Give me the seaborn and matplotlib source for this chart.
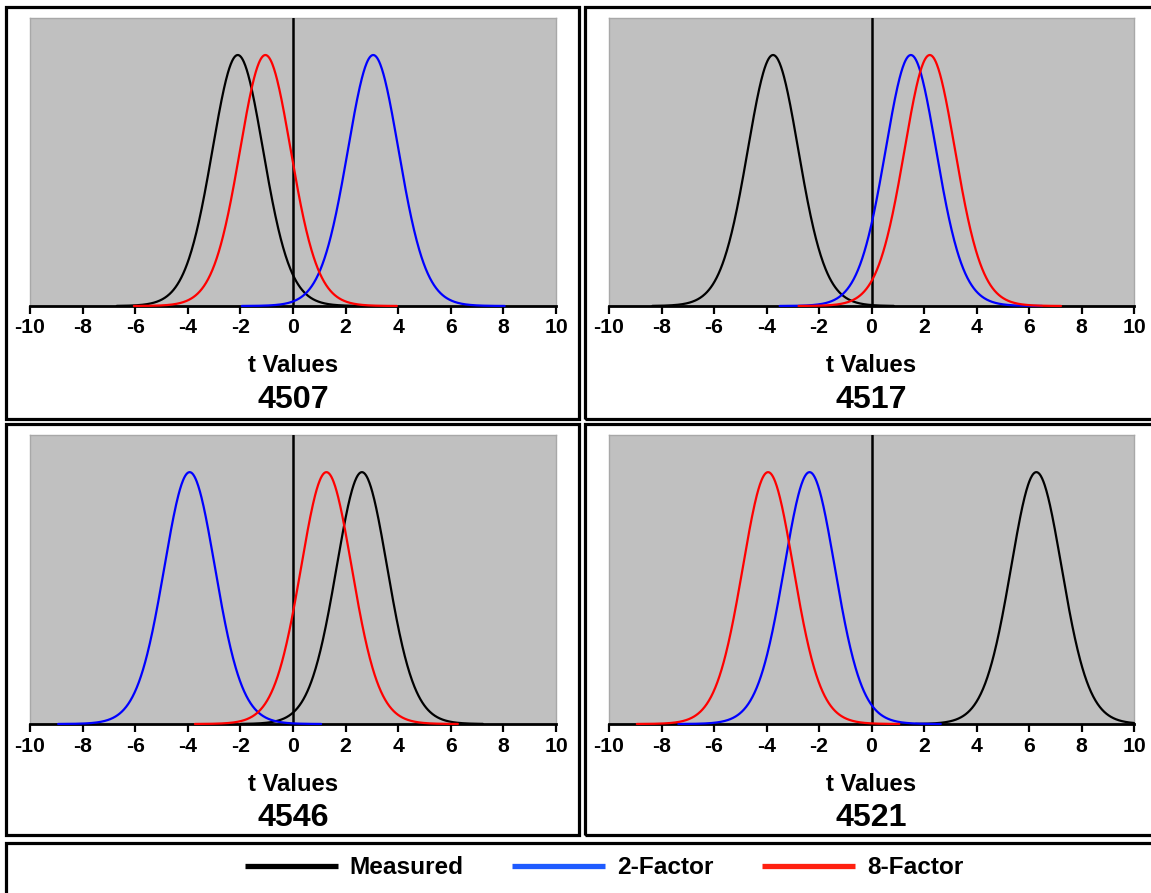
import math
import numpy as np
import pandas as pd
import matplotlib
matplotlib.use("Agg")
import matplotlib.pyplot as plt
from matplotlib.patches import Rectangle
from matplotlib.lines import Line2D
import seaborn as sns

# ---------------- data ----------------
panels = ["4507", "4517", "4546", "4521"]
series = ["Measured", "2-Factor", "8-Factor"]
measured_t = [-2.10, -3.75, 2.62, 6.28]
two_factor_t = [3.05, 1.50, -3.93, -2.36]
eight_factor_t = [-1.05, 2.22, 1.27, -3.94]
dof = 20
half_range = {"Measured": 4.6, "2-Factor": 5.0, "8-Factor": 5.0}
tick_values = [-10, -8, -6, -4, -2, 0, 2, 4, 6, 8, 10]
tick_labels = ["-10", "-8", "-6", "-4", "-2", "0", "2", "4", "6", "8", "10"]

curve_colors = {"Measured": "#000000", "2-Factor": "#0000FF", "8-Factor": "#FF0000"}
legend_colors = {"Measured": "#000000", "2-Factor": "#1F5BFF", "8-Factor": "#FF2010"}


def t_pdf(x, nu):
    c = math.exp(math.lgamma((nu + 1) / 2) - math.lgamma(nu / 2)) / math.sqrt(nu * math.pi)
    return c * (1 + x ** 2 / nu) ** (-(nu + 1) / 2)


rows = []
for i, p in enumerate(panels):
    centers = {"Measured": measured_t[i], "2-Factor": two_factor_t[i], "8-Factor": eight_factor_t[i]}
    for s in series:
        c = centers[s]
        hr = half_range[s]
        xs = np.linspace(max(-10, c - hr), min(10, c + hr), 500)
        for x in xs:
            rows.append({"panel": p, "model": s, "t": x, "density": t_pdf(x - c, dof)})
df = pd.DataFrame(rows)
peak = t_pdf(0.0, dof)

# ---------------- figure ----------------
sns.set_style("white")
plt.rcParams["font.family"] = ["Liberation Sans", "DejaVu Sans"]
plt.rcParams["axes.unicode_minus"] = False
plt.rcParams["text.color"] = "black"

W, H = 1151, 893
fig = plt.figure(figsize=(W / 100, H / 100), dpi=100)
fig.patch.set_facecolor("white")


def fx(px):
    return px / W


def fy(py):
    return 1 - py / H


# axes rectangles in pixels: (left, top, right, bottom)
ax_px = [(30, 18, 556, 306), (609, 18, 1134, 306), (30, 435, 556, 724), (609, 435, 1134, 724)]

for i, p in enumerate(panels):
    l, t, r, b = ax_px[i]
    ax = fig.add_axes([fx(l), fy(b), fx(r) - fx(l), fy(t) - fy(b)])
    ax.set_facecolor("#C0C0C0")
    sub = df[df["panel"] == p]
    sns.lineplot(data=sub, x="t", y="density", hue="model", hue_order=series,
                 palette=curve_colors, ax=ax, legend=False, linewidth=1.6,
                 estimator=None, sort=False)
    for ln in ax.get_lines():
        ln.set_zorder(3)
        ln.set_clip_on(False)
    ax.axvline(0, color="black", linewidth=1.8, zorder=2.8)
    ax.set_xlim(-10, 10)
    ax.set_ylim(0, peak / 0.8715)
    ax.set_xticks(tick_values)
    ax.set_xticklabels(tick_labels, fontsize=15.3, fontweight="bold", color="black")
    ax.set_yticks([])
    ax.set_xlabel("")
    ax.set_ylabel("")
    ax.tick_params(axis="x", direction="out", length=6, width=1.6, pad=3, bottom=True, colors="black")
    for side in ["top", "left", "right"]:
        ax.spines[side].set_color("#A8A8A8")
        ax.spines[side].set_linewidth(1.0)
    ax.spines["bottom"].set_color("black")
    ax.spines["bottom"].set_linewidth(2.0)
    ax.text(0.5, -0.208, "t Values", transform=ax.transAxes, ha="center", va="center",
            fontsize=17.2, fontweight="bold", color="black")
    ax.text(0.5, -0.326, p, transform=ax.transAxes, ha="center", va="center",
            fontsize=23.2, fontweight="bold", color="black")

# panel frames
boxes = [(6, 6.5, 579, 418.5), (584.5, 6.5, 1156, 418.5),
         (6, 423.5, 579, 834.5), (584.5, 423.5, 1156, 834.5),
         (6, 843, 1156, 898)]
for (x0, y0, x1, y1) in boxes:
    fig.add_artist(Rectangle((fx(x0), fy(y1)), fx(x1) - fx(x0), fy(y0) - fy(y1),
                             transform=fig.transFigure, fill=False,
                             edgecolor="black", linewidth=2.3, clip_on=False))

handles = [Line2D([0], [0], color=legend_colors[s], linewidth=3.8, solid_capstyle="butt")
           for s in series]
leg = fig.legend(handles, series, loc="center", bbox_to_anchor=(fx(604), fy(868)),
                 ncol=3, frameon=False, handlelength=3.8, handletextpad=0.48,
                 columnspacing=2.0, prop={"size": 17.6, "weight": "bold"})
for txt in leg.get_texts():
    txt.set_color("black")

fig.savefig("out.png", dpi=100, facecolor="white")
